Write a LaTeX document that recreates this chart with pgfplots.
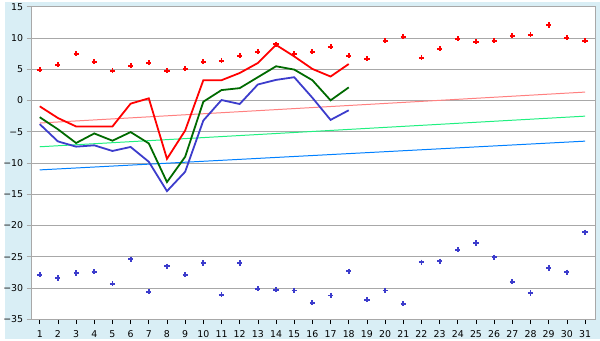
\documentclass[border=0pt]{standalone}
\usepackage{pgfplots}
\pgfplotsset{compat=1.18}
\usepackage{fontspec}
\setmainfont{DejaVu Sans}
\definecolor{bg}{HTML}{D9EEF5}
\definecolor{axgray}{HTML}{A8A8A8}
\definecolor{lred}{HTML}{FF0000}
\definecolor{lgreen}{HTML}{006A00}
\definecolor{lblue}{HTML}{3C3CCC}
\definecolor{tpink}{HTML}{FF8080}
\definecolor{tgreen}{HTML}{20F080}
\definecolor{tblue}{HTML}{0080FF}
\begin{document}
\begin{tikzpicture}
\fill[bg] (0,0) rectangle (600bp,340bp);
\begin{axis}[
  at={(27bp,20bp)}, anchor=south west,
  scale only axis, width=568bp, height=315bp,
  xmin=0.55, xmax=31.55, ymin=-35, ymax=15,
  axis background/.style={fill=white},
  axis line style={draw=axgray, line width=0.9bp},
  ymajorgrids, grid style={draw=axgray, line width=0.9bp},
  xtick={1,...,31},
  ytick={-35,-30,-25,-20,-15,-10,-5,0,5,10,15},
  yticklabels={−35,−30,−25,−20,−15,−10,−5,0,5,10,15},
  xtick pos=bottom, ytick pos=left,
  tick align=outside,
  major tick length=5bp,
  xtick style={draw=black, line width=0.7bp},
  ytick style={draw=axgray, line width=0.9bp},
  tick label style={font=\fontsize{9.5}{10}\selectfont, text=black},
  xticklabel style={yshift=-2.5bp},
  /pgf/number format/assume math mode=true,
  clip=false,
]
% trend lines
\addplot[tpink, line width=1bp] coordinates {(1,-3.6) (31,1.35)};
\addplot[tgreen, line width=1bp] coordinates {(1,-7.4) (31,-2.5)};
\addplot[tblue, line width=1bp] coordinates {(1,-11.1) (31,-6.5)};
% red line
\addplot[lred, line width=1.8bp] coordinates {
(1,-0.93) (2,-2.8) (3,-4.15) (4,-4.15) (5,-4.15) (6,-0.5) (7,0.35) (8,-9.33) (9,-4.8)
(10,3.25) (11,3.25) (12,4.4) (13,6.0) (14,8.9) (15,7.06) (16,5.05) (17,3.84) (18,5.84)};
% green line
\addplot[lgreen, line width=1.8bp] coordinates {
(1,-2.67) (2,-4.6) (3,-6.8) (4,-5.27) (5,-6.43) (6,-5.05) (7,-6.86) (8,-13.05) (9,-9.0)
(10,-0.19) (11,1.67) (12,1.98) (13,3.73) (14,5.48) (15,4.95) (16,3.25) (17,0.03) (18,2.1)};
% blue line
\addplot[lblue, line width=1.8bp] coordinates {
(1,-3.78) (2,-6.54) (3,-7.38) (4,-7.17) (5,-8.07) (6,-7.43) (7,-9.8) (8,-14.5) (9,-11.4)
(10,-3.2) (11,0.08) (12,-0.56) (13,2.57) (14,3.3) (15,3.73) (16,0.44) (17,-3.1) (18,-1.56)};
% red dots
\addplot[only marks, mark=+, mark size=2.6bp, lred, mark options={line width=1.9bp}] coordinates {
(1,4.95) (2,5.74) (3,7.49) (4,6.22) (5,4.79) (6,5.58) (7,6.06) (8,4.79) (9,5.1) (10,6.22)
(11,6.38) (12,7.17) (13,7.8) (14,9.02) (15,7.49) (16,7.8) (17,8.6) (18,7.17) (19,6.69) (20,9.55)
(21,10.18) (22,6.85) (23,8.28) (24,9.87) (25,9.39) (26,9.55) (27,10.34) (28,10.5) (29,12.09) (30,10.03) (31,9.55)};
% blue dots
\addplot[only marks, mark=+, mark size=2.6bp, lblue, mark options={line width=1.9bp}] coordinates {
(1,-27.9) (2,-28.4) (3,-27.6) (4,-27.4) (5,-29.3) (6,-25.4) (7,-30.6) (8,-26.5) (9,-27.9) (10,-26.0)
(11,-31.1) (12,-26.0) (13,-30.1) (14,-30.3) (15,-30.4) (16,-32.35) (17,-31.2) (18,-27.3) (19,-31.9) (20,-30.4)
(21,-32.5) (22,-25.85) (23,-25.7) (24,-23.9) (25,-22.8) (26,-25.05) (27,-29.0) (28,-30.8) (29,-26.8) (30,-27.45) (31,-21.1)};
\end{axis}
\end{tikzpicture}
\end{document}
